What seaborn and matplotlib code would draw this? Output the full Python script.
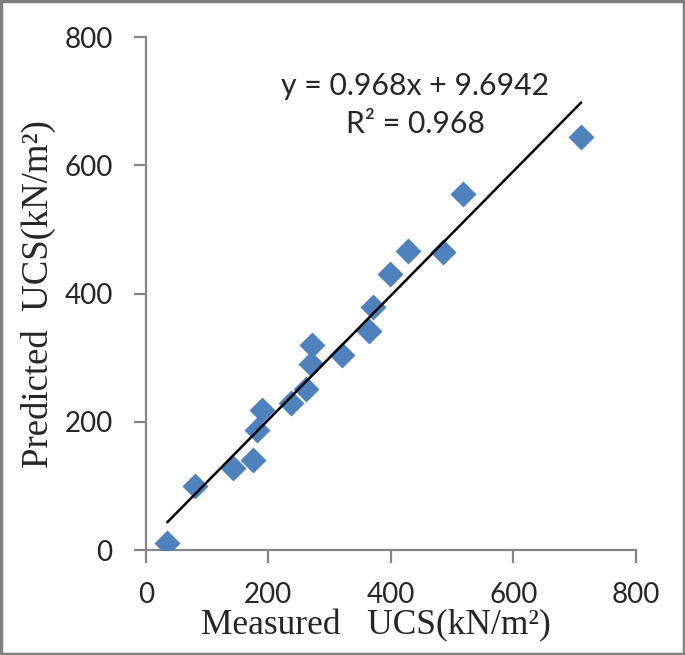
import numpy as np
import pandas as pd
import matplotlib.pyplot as plt
import seaborn as sns
from matplotlib.patches import Rectangle

# measured vs predicted UCS (kN/m2)
measured = [35, 81, 142, 175, 181, 190, 237, 262, 270, 271, 320, 365, 371, 398, 428, 486, 518, 711]
predicted = [12, 100, 128, 140, 187, 218, 229, 252, 291, 320, 305, 341, 379, 431, 467, 465, 555, 644]

# trendline as printed on the chart
slope = 0.968
intercept = 9.6942
r2 = 0.968

ticks = [0, 200, 400, 600, 800]

df = pd.DataFrame({'measured': measured, 'predicted': predicted})

sns.set_style('white')
plt.rcParams['font.family'] = ['Lato', 'DejaVu Sans']

fig = plt.figure(figsize=(6.85, 6.55), dpi=100)
ax = fig.add_axes([0.213, 0.160, 0.715, 0.7835])

sns.scatterplot(data=df, x='measured', y='predicted', marker='D', s=175,
                color='#4F81BD', linewidth=0, ax=ax, zorder=3)

# trendline over the range of the data
xl = np.array([min(measured), max(measured)])
ax.plot(xl, slope * xl + intercept, color='black', lw=1.8, zorder=4)

ax.set_xlim(0, 800)
ax.set_ylim(0, 800)
ax.set_xticks(ticks)
ax.set_yticks(ticks)
ax.tick_params(axis='both', direction='out', length=9, width=1.6, color='#868686',
               labelsize=20, bottom=True, left=True)
ax.tick_params(axis='x', pad=14)
ax.tick_params(axis='y', pad=15)
for side in ['top', 'right']:
    ax.spines[side].set_visible(False)
for side in ['left', 'bottom']:
    ax.spines[side].set_color('#868686')
    ax.spines[side].set_linewidth(1.6)

ax.set_xlabel('Measured   UCS(kN/m\u00b2)', family='Liberation Serif', fontsize=25.5, labelpad=1)
ax.xaxis.label.set_x(0.47)
ax.set_ylabel('Predicted  UCS(kN/m\u00b2)', family='Liberation Serif', fontsize=26.5, labelpad=6)

ax.text(0.549, 0.887, f'y = {slope}x + {intercept}', transform=ax.transAxes,
        ha='center', va='baseline', fontsize=21.7)
ax.text(0.551, 0.813, f'R\u00b2 = {r2}', transform=ax.transAxes,
        ha='center', va='baseline', fontsize=21.7)

# grey frame around the whole picture
fig.patches.append(Rectangle((0.002, 0.002), 0.996, 0.996, transform=fig.transFigure,
                             fill=False, edgecolor='#7f7f7f', lw=2.5))

fig.savefig('out.png', dpi=100)
